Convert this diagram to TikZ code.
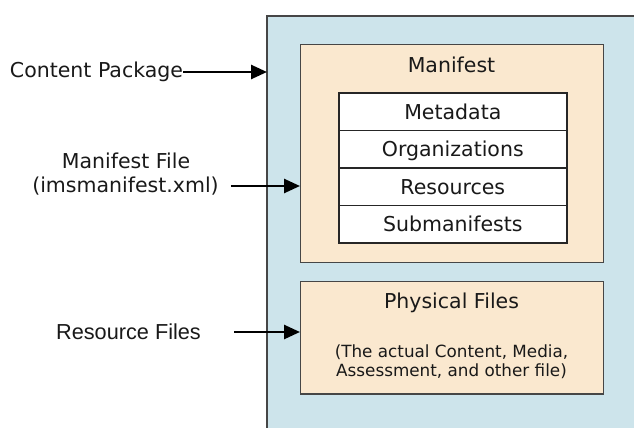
\documentclass[tikz,border=0pt]{standalone}
\usepackage{fontspec}
\setmainfont{DejaVu Sans}
\newfontfamily\arialfont{Liberation Sans}
\usetikzlibrary{arrows.meta}
\definecolor{pkgblue}{RGB}{205,228,235}
\definecolor{beige}{RGB}{250,232,207}
\definecolor{framegray}{RGB}{70,70,70}
\definecolor{ink}{RGB}{25,25,25}
\tikzset{
  txt/.style={font=\fontsize{20.5}{24}\selectfont, text=ink, inner sep=0pt},
  smalltxt/.style={font=\fontsize{16.8}{19.5}\selectfont, text=ink, inner sep=0pt, align=center},
  arialtxt/.style={font=\arialfont\fontsize{21.7}{26}\selectfont, text=ink, inner sep=0pt},
  panel/.style={draw=framegray, line width=1.4pt, fill=beige, anchor=north west, inner sep=0pt},
  row/.style={draw=black!85, line width=1.6pt, fill=white, anchor=north west, inner sep=0pt,
    minimum width=228pt, minimum height=37.6pt, text height=15pt, text depth=0pt,
    font=\fontsize{20.5}{24}\selectfont, text=ink},
  arr/.style={line width=2.6pt, -{Triangle[length=16pt,width=14pt]}, black},
}
\begin{document}
\begin{tikzpicture}[x=1pt,y=-1pt]
\useasboundingbox (0,0) rectangle (634,428);
% content package container (runs off the right and bottom edges)
\node[anchor=north west, fill=pkgblue, minimum width=400pt, minimum height=440pt, inner sep=0pt] (pkg) at (267,16) {};
\draw[framegray, line width=1.4pt] (pkg.north east) -- (pkg.north west) -- (pkg.south west);
% manifest panel
\node[panel, minimum width=303pt, minimum height=218pt] (man) at (300,44) {};
\node[txt] (mantitle) at (451.5,65) {Manifest};
\node[row] (meta) at (338,92) {Metadata};
\node[row] (org) at (338,129.6) {Organizations};
\node[row] (res) at (338,167.2) {Resources};
\node[row] (sub) at (338,204.8) {Submanifests};
% physical files panel
\node[panel, minimum width=303pt, minimum height=112.5pt] (phys) at (300,280.7) {};
\node[txt] (phystitle) at (451.5,303) {Physical Files};
\node[smalltxt] (physnote) at (451.5,361.5) {(The actual Content, Media,\\Assessment, and other file)};
% labels on the left
\node[txt] (cp) at (96.5,72) {Content Package};
\node[txt] (mf1) at (126,161) {Manifest File};
\node[txt] (mf2) at (125.5,186) {(imsmanifest.xml)};
\node[arialtxt] (rf) at (128.5,332) {Resource Files};
% arrows
\draw[arr] (cp.east) -- (cp.east -| pkg.west);
\draw[arr] ([xshift=12pt]mf2.east) -- (mf2.east -| man.west);
\coordinate (rfstart) at ([xshift=33pt]rf.east);
\draw[arr] (rfstart) -- (rfstart -| phys.west);
\end{tikzpicture}
\end{document}
